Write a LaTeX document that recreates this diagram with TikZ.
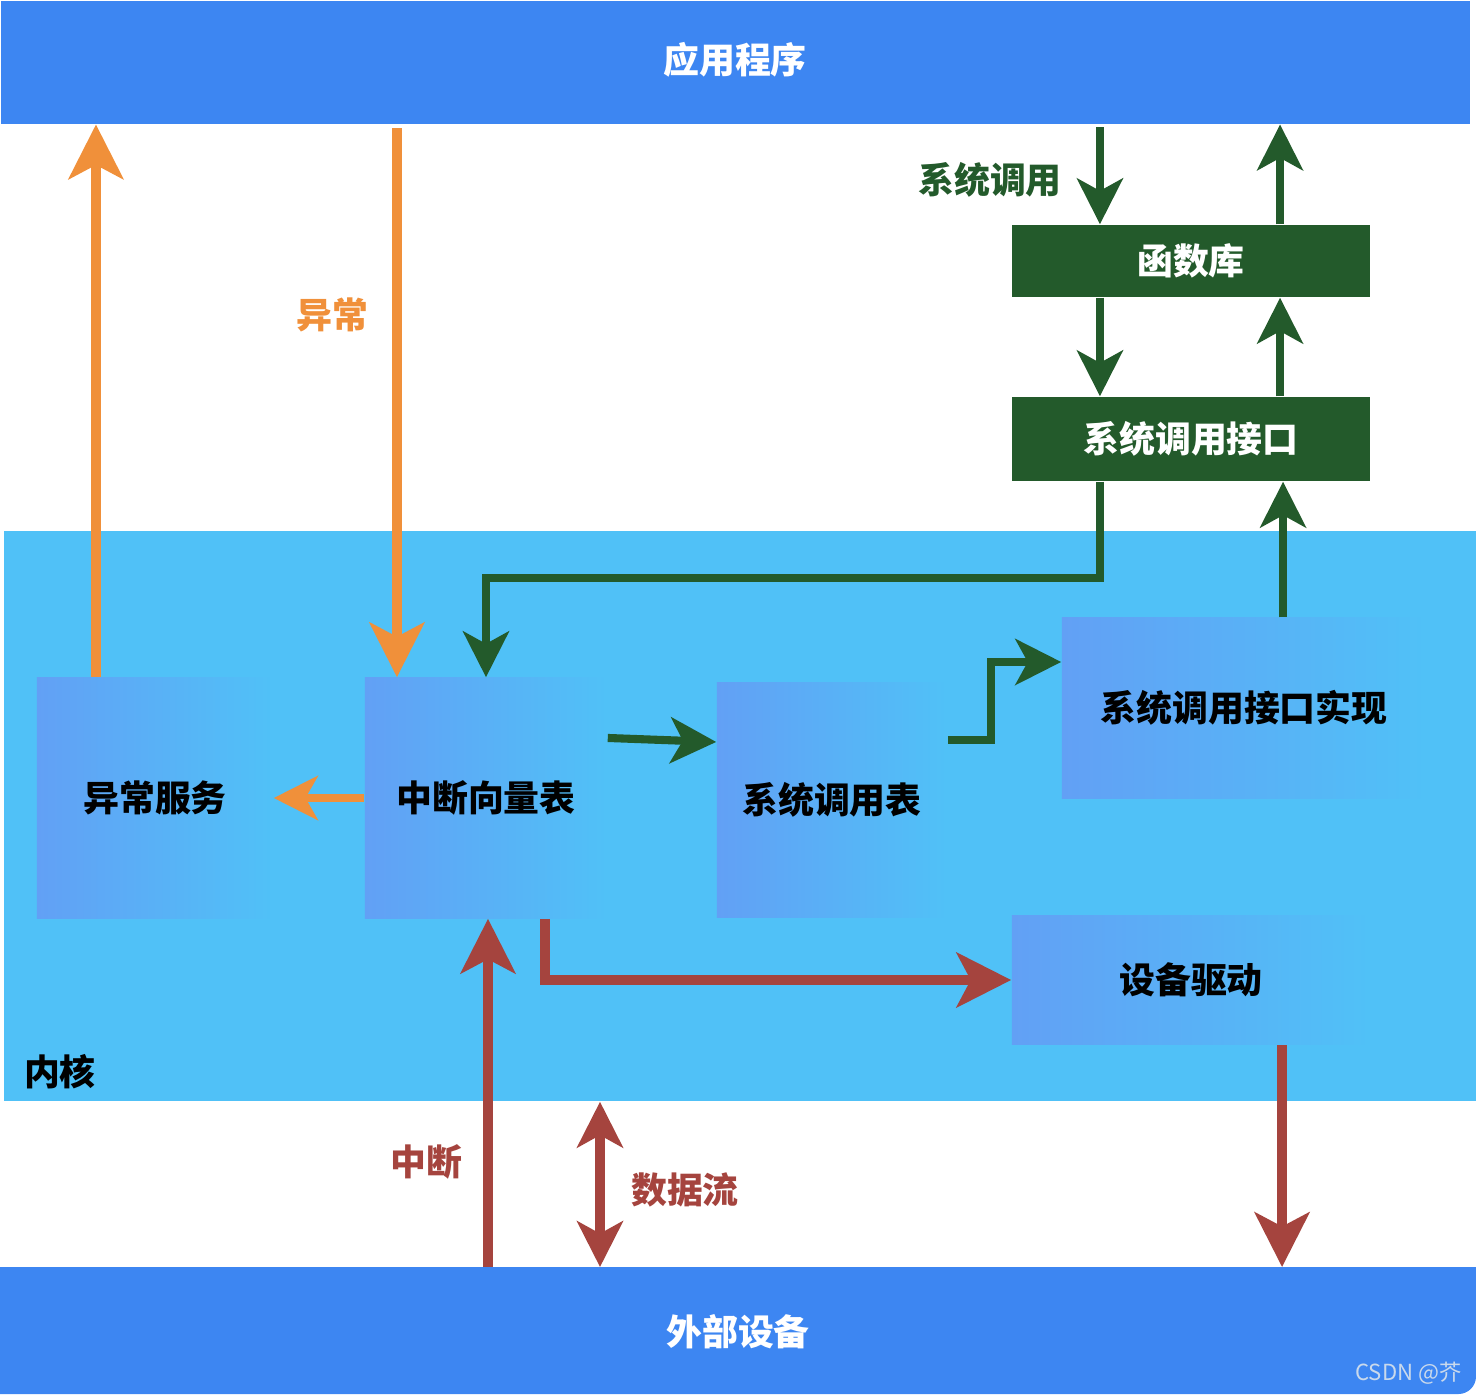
\documentclass[tikz,border=0pt]{standalone}
\usepackage{fontspec}
\setmainfont{Noto Sans CJK SC}
\usetikzlibrary{arrows.meta}
\definecolor{bandblue}{HTML}{3D86F2}
\definecolor{kernblue}{HTML}{50C1F7}
\definecolor{boxblue}{HTML}{62A0F5}
\definecolor{dkgreen}{HTML}{235A2B}
\definecolor{orng}{HTML}{F0903A}
\definecolor{rd}{HTML}{A5443E}
\definecolor{wm}{HTML}{C9D9EC}
\tikzset{
  band/.style={fill=bandblue, draw=none, inner sep=0pt},
  kbox/.style={draw=none, left color=boxblue, right color=kernblue, inner sep=0pt,
    font=\fontsize{10.2pt}{12pt}\selectfont\bfseries, text=black},
  gbox/.style={fill=dkgreen, draw=none, inner sep=0pt, minimum width=3.58cm,
    font=\fontsize{10.2pt}{12pt}\selectfont\bfseries, text=white},
  lbl/.style={font=\fontsize{10.2pt}{12pt}\selectfont\bfseries, inner sep=0pt},
  bigtip/.style={-{Stealth[length=15.5pt,width=15.5pt,inset=4pt]}},
  midtip/.style={-{Stealth[length=13pt,width=13pt,inset=3.5pt]}},
  oarrow/.style={draw=orng, line width=2.8pt, color=orng},
  garrow/.style={draw=dkgreen, line width=2.3pt, color=dkgreen},
  rarrow/.style={draw=rd, line width=2.8pt, color=rd},
}
\begin{document}
\begin{tikzpicture}[x=0.01cm, y=-0.01cm]
\useasboundingbox (0,0) rectangle (1476,1394);
% bands
\node[band, minimum width=14.68cm, minimum height=1.23cm, anchor=north west] (app) at (0,0) {};
\node[text=white, lbl] (apptxt) at (735,60) {应用程序};
\node[fill=kernblue, draw=none, inner sep=0pt, minimum width=14.73cm, minimum height=5.70cm,
  anchor=north west] (kern) at (3,530) {};
\fill[bandblue] (0,1267) -- (1476,1267) [rounded corners=5pt] -- (1476,1394) [sharp corners] -- (0,1394) -- cycle;
\coordinate (extnw) at (0,1267);
\node[inner sep=0pt, minimum width=14.76cm, minimum height=1.27cm, anchor=north west] (ext) at (extnw) {};
\node[text=white, lbl] (exttxt) at (738,1332) {外部设备};
\node[lbl, text=black] (kerntxt) at (60,1072) {内核};
\node[inner sep=0pt, anchor=east, text=wm, font=\fontsize{6.3pt}{7pt}\selectfont] (wmark) at (1462,1373) {CSDN @芥};

% kernel boxes
\node[kbox, minimum width=2.36cm, minimum height=2.40cm] (ex) at (155,798) {异常服务};
\node[kbox, minimum width=2.42cm, minimum height=2.40cm] (iv) at (486,798) {中断向量表};
\node[kbox, minimum width=2.30cm, minimum height=2.35cm] (st) at (832,800) {系统调用表};
\node[kbox, minimum width=3.64cm, minimum height=1.80cm] (sci) at (1244,708) {系统调用接口实现};
\node[kbox, minimum width=3.58cm, minimum height=1.29cm] (dev) at (1191,980) {设备驱动};

% green boxes
\node[gbox, minimum height=0.72cm] (lib) at (1191,261) {函数库};
\node[gbox, minimum height=0.84cm] (sif) at (1191,439) {系统调用接口};

% labels
\node[lbl, text=orng] (lexc) at (332,315) {异常};
\node[lbl, text=dkgreen] (lsys) at (990,180) {系统调用};
\node[lbl, text=rd] (lint) at (426,1162) {中断};
\node[lbl, text=rd] (ldat) at (685,1190) {数据流};

% orange arrows
\draw[oarrow, bigtip] ([xshift=-0.59cm]ex.north) -- ([xshift=-0.59cm]ex.north |- app.south);
\draw[oarrow, bigtip] ([xshift=-0.89cm,yshift=-0.04cm]iv.north |- app.south) -- ([xshift=-0.89cm]iv.north);
\draw[oarrow, line width=2.3pt, {-Stealth[length=12.5pt,width=12.5pt,inset=3.5pt]}] (iv.west) -- (ex.east);

% green arrows
\draw[garrow, midtip] ([xshift=-0.91cm,yshift=-0.03cm]lib.north |- app.south) -- ([xshift=-0.91cm]lib.north);
\draw[garrow, midtip] ([xshift=0.89cm]lib.north) -- ([xshift=0.89cm]lib.north |- app.south);
\draw[garrow, midtip] ([xshift=-0.91cm]lib.south) -- ([xshift=-0.91cm]sif.north);
\draw[garrow, midtip] ([xshift=0.89cm]sif.north) -- ([xshift=0.89cm]lib.south);
\coordinate (bend) at (0,578);
\draw[garrow, midtip] ([xshift=-0.91cm]sif.south) |- (iv.north |- bend) -- (iv.north);
\draw[garrow, midtip] ([xshift=0.92cm]sif.south |- sci.north) -- ([xshift=0.92cm]sif.south);
\draw[garrow, midtip] ([yshift=0.6cm]iv.east) -- ([yshift=0.58cm]st.west);
\draw[garrow, midtip] ([yshift=0.6cm]st.east) -- ++(43,0) |- ([yshift=0.46cm]sci.west);

% red arrows
\draw[rarrow, bigtip] ([xshift=0.59cm]iv.south) |- (dev.west);
\draw[rarrow, bigtip] ([xshift=0.02cm]iv.south |- ext.north) -- ([xshift=0.02cm]iv.south);
\coordinate (dfx) at (600,0);
\draw[rarrow, {Stealth[length=13pt,width=13pt,inset=3.5pt]}-{Stealth[length=13pt,width=13pt,inset=3.5pt]}] (kern.south -| dfx) -- (ext.north -| dfx);
\draw[rarrow, bigtip] ([xshift=0.91cm]dev.south) -- ([xshift=0.91cm]dev.south |- ext.north);
\end{tikzpicture}
\end{document}
